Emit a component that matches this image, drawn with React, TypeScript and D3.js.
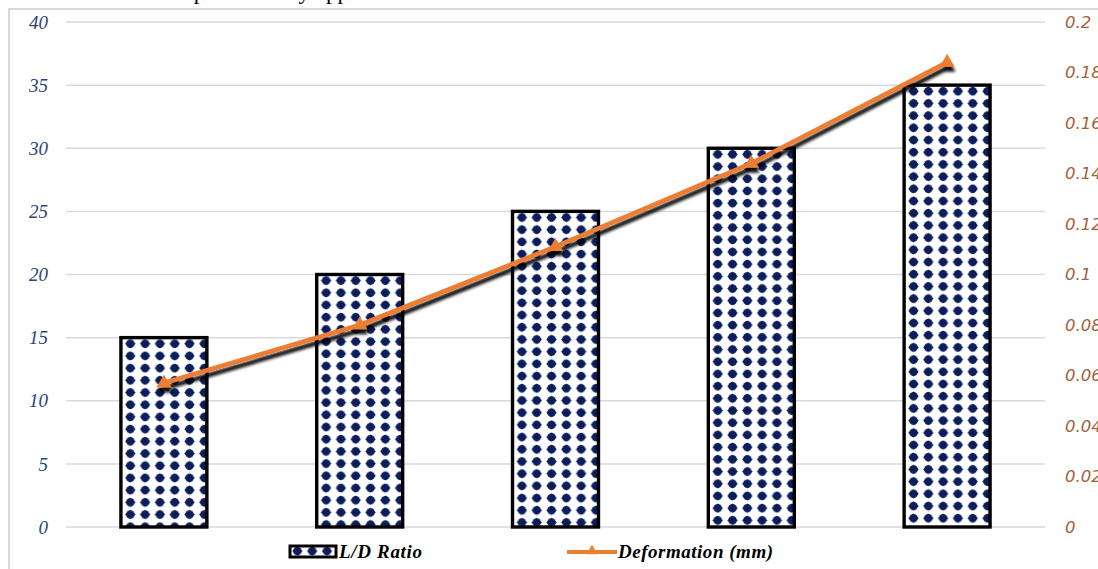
import React from "react";
import * as d3 from "d3";

// Bars: L/D ratio per specimen; line: measured deformation (mm)
const categories = ["S1", "S2", "S3", "S4", "S5"];
const ldRatio = [15, 20, 25, 30, 35];
const deformation = [0.057, 0.08, 0.111, 0.144, 0.184];
const leftTicks = [0, 5, 10, 15, 20, 25, 30, 35, 40];
const rightTicks = [0, 0.02, 0.04, 0.06, 0.08, 0.1, 0.12, 0.14, 0.16, 0.18, 0.2];
const legendLabels = ["L/D Ratio", "Deformation (mm)"];

const W = 1098;
const H = 569;
const plot = { left: 66, right: 1045, top: 22, bottom: 527 };

const NAVY = "#0c1d5c";
const ORANGE = "#ed7d31";

const PW = 14.8;
const PH = 12.2;

function Dot({ cx, cy }: { cx: number; cy: number }) {
  return (
    <g fill={NAVY}>
      <circle cx={cx} cy={cy} r={4.2} />
      <polygon
        points={`${cx - 5.3},${cy} ${cx},${cy - 4.8} ${cx + 5.3},${cy} ${cx},${cy + 4.8}`}
      />
    </g>
  );
}

function DotPattern({ id, x, y }: { id: string; x: number; y: number }) {
  return (
    <pattern id={id} patternUnits="userSpaceOnUse" x={x} y={y} width={PW} height={PH}>
      <rect width={PW} height={PH} fill="#ffffff" />
      <Dot cx={PW / 2} cy={PH / 2} />
    </pattern>
  );
}

export default function App() {
  const x = d3
    .scaleBand<string>()
    .domain(categories)
    .range([plot.left, plot.right])
    .paddingInner(0.561)
    .paddingOuter(0.2805);
  const yL = d3.scaleLinear().domain([0, 40]).range([plot.bottom, plot.top]);
  const yR = d3.scaleLinear().domain([0, 0.2]).range([plot.bottom, plot.top]);

  const pts: [number, number][] = categories.map((c, i) => [
    (x(c) as number) + x.bandwidth() / 2,
    yR(deformation[i]),
  ]);
  const line = d3.line()(pts) as string;

  const tri = (cx: number, cy: number, s: number) => {
    const h = (s * Math.sqrt(3)) / 2;
    return `M${cx},${cy - (2 * h) / 3}L${cx + s / 2},${cy + h / 3}L${cx - s / 2},${cy + h / 3}Z`;
  };

  const fmtR = (v: number) => String(+v.toFixed(2));

  return (
    <svg
      width={W}
      height={H}
      style={{ position: "absolute", left: 0, top: 0, background: "#ffffff" }}
    >
      <defs>
        {categories.map((c, i) => (
          <DotPattern key={c} id={`dots-${i}`} x={(x(c) as number) + 2} y={yL(ldRatio[i])} />
        ))}
        <DotPattern id="dots-legend" x={290} y={545} />
        <filter id="shadow" x="-10%" y="-20%" width="130%" height="150%">
          <feGaussianBlur in="SourceAlpha" stdDeviation={1.8} />
          <feOffset dx={1} dy={5} result="off" />
          <feComponentTransfer>
            <feFuncA type="linear" slope={0.95} />
          </feComponentTransfer>
          <feMerge>
            <feMergeNode />
            <feMergeNode in="SourceGraphic" />
          </feMerge>
        </filter>
      </defs>

      {/* caption line continuing above the chart */}
      <text
        x={172}
        y={-1}
        fontFamily="'Liberation Serif', 'Times New Roman', serif"
        fontSize={23}
        fill="#000"
      >
        experimentally applied
      </text>

      {/* chart frame */}
      <rect x={9} y={9} width={W + 20} height={H + 20} fill="#ffffff" stroke="#d9d9d9" strokeWidth={2} />

      {/* gridlines */}
      {leftTicks.map((t) => (
        <line
          key={t}
          x1={plot.left}
          x2={plot.right}
          y1={yL(t)}
          y2={yL(t)}
          stroke="#d9d9d9"
          strokeWidth={1.5}
        />
      ))}

      {/* left axis labels */}
      {leftTicks.map((t) => (
        <text
          key={t}
          x={48}
          y={yL(t)}
          dy="0.35em"
          textAnchor="end"
          fontFamily="'Liberation Serif', 'Times New Roman', serif"
          fontStyle="italic"
          fontSize={19}
          fill="#2b4178"
        >
          {t}
        </text>
      ))}

      {/* right axis labels */}
      {rightTicks.map((t) => (
        <text
          key={t}
          x={1065}
          y={yR(t)}
          dy="0.36em"
          textAnchor="start"
          fontFamily="'DejaVu Sans', sans-serif"
          fontStyle="italic"
          fontSize={16.5}
          fill="#a2623c"
        >
          {fmtR(t)}
        </text>
      ))}

      {/* bars */}
      {categories.map((c, i) => (
        <rect
          key={c}
          x={x(c)}
          y={yL(ldRatio[i])}
          width={x.bandwidth()}
          height={yL(0) - yL(ldRatio[i])}
          fill={`url(#dots-${i})`}
          stroke="#000"
          strokeWidth={3.4}
        />
      ))}

      {/* deformation line */}
      <g filter="url(#shadow)">
        <path d={line} fill="none" stroke={ORANGE} strokeWidth={4.6} strokeLinejoin="round" />
        {pts.map(([px, py], i) => (
          <path key={i} d={tri(px, py, 15)} fill={ORANGE} />
        ))}
      </g>

      {/* legend */}
      <rect x={290} y={546} width={46} height={11} fill="url(#dots-legend)" stroke="#000" strokeWidth={3} />
      <text
        x={339}
        y={558}
        fontFamily="'Liberation Serif', 'Times New Roman', serif"
        fontStyle="italic"
        fontWeight="bold"
        fontSize={19}
        textLength={83}
        lengthAdjust="spacing"
        fill="#000"
      >
        {legendLabels[0]}
      </text>
      <line x1={567} x2={617} y1={552} y2={552} stroke={ORANGE} strokeWidth={4} />
      <path d={tri(592, 551, 11)} fill={ORANGE} />
      <text
        x={618}
        y={558}
        fontFamily="'Liberation Serif', 'Times New Roman', serif"
        fontStyle="italic"
        fontWeight="bold"
        fontSize={19}
        textLength={155}
        lengthAdjust="spacing"
        fill="#000"
      >
        {legendLabels[1]}
      </text>
    </svg>
  );
}
